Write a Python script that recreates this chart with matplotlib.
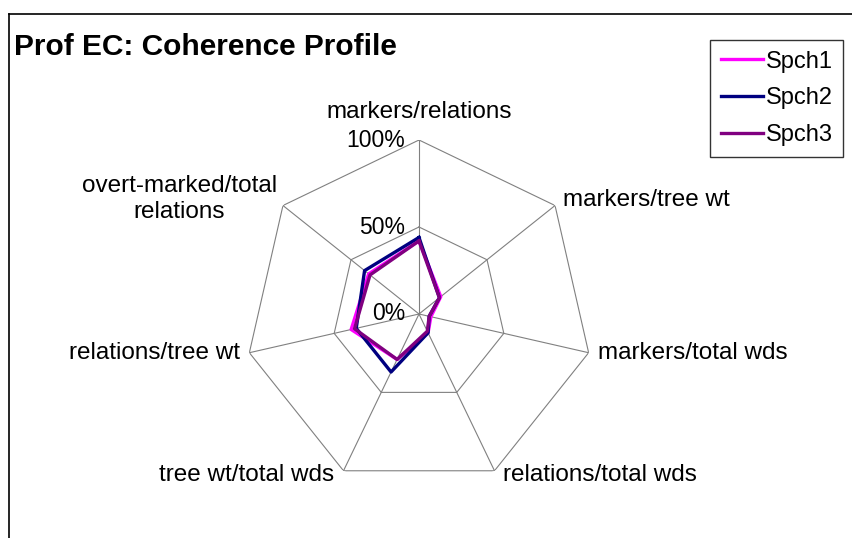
import numpy as np
import matplotlib
matplotlib.use('Agg')
import matplotlib.pyplot as plt
from matplotlib.lines import Line2D

plt.rcParams['font.family'] = ['Liberation Sans', 'DejaVu Sans']

# data (percent)
categories = ['markers/relations', 'markers/tree wt', 'markers/total wds',
              'relations/total wds', 'tree wt/total wds', 'relations/tree wt',
              'overt-marked/total\nrelations']
spch1 = [42, 16, 7, 12, 29, 40, 37]
spch2 = [44, 15, 6, 12, 37, 37, 40]
spch3 = [42, 15, 6, 11, 29, 38, 36]
series_names = ['Spch1', 'Spch2', 'Spch3']
series_colors = ['#FF00FF', '#000080', '#800080']
grid_levels = [0.5, 1.0]
tick_labels = ['0%', '50%', '100%']

W, H = 853, 538
fig = plt.figure(figsize=(W / 100, H / 100), dpi=100)

cx, cy, R = 419, 314, 174
ax = fig.add_axes([(cx - R) / W, (H - cy - R) / H, 2 * R / W, 2 * R / H],
                  projection='polar')
ax.set_theta_offset(np.pi / 2)
ax.set_theta_direction(-1)
ax.set_ylim(0, 1)
ax.set_axis_off()

n = len(categories)
theta = np.arange(n) * 2 * np.pi / n
theta_c = np.append(theta, theta[0])

# polygon grid and spokes
for lv in grid_levels:
    ax.plot(theta_c, [lv] * (n + 1), color='#808080', lw=0.8, zorder=1)
for t in theta:
    ax.plot([t, t], [0, 1], color='#808080', lw=0.8, zorder=1)

# series
handles = []
for vals, name, col in zip([spch1, spch2, spch3], series_names, series_colors):
    v = np.array(vals + vals[:1]) / 100.0
    h, = ax.plot(theta_c, v, color=col, lw=2.4, label=name, zorder=3)
    handles.append(h)

# radial tick labels
for lv, lab in zip([0, 0.5, 1.0], tick_labels):
    ax.annotate(lab, xy=(0, lv), xytext=(-10, 0), textcoords='offset points',
                ha='right', va='center', fontsize=16.5)

# category labels
offsets = [(0, 20, 'center', 'center'), (6, 4, 'left', 'center'),
           (7, 0, 'left', 'center'), (6, -2.7, 'left', 'center'),
           (-6.5, -2.7, 'right', 'center'), (-7, 0, 'right', 'center'),
           (-74.5, 4.7, 'center', 'center')]
for t, lab, (dx, dy, ha, va) in zip(theta, categories, offsets):
    ax.annotate(lab, xy=(t, 1), xytext=(dx, dy), textcoords='offset points',
                ha=ha, va=va, fontsize=17.5, linespacing=1.2)

fig.text(14 / W, 1 - 47 / H, 'Prof EC: Coherence Profile', fontsize=21.5,
         fontweight='bold', ha='left', va='center')

# chart area border (partly cut off)
fig.add_artist(Line2D([9 / W, 1], [1 - 14 / H, 1 - 14 / H], color='black', lw=1.2))
fig.add_artist(Line2D([9 / W, 9 / W], [0, 1 - 14 / H], color='black', lw=1.2))

leg = fig.legend(handles=handles, loc='upper left',
                 bbox_to_anchor=(710 / W, 1 - 40 / H), borderaxespad=0,
                 fontsize=17, frameon=True, fancybox=False, handlelength=1.8,
                 handletextpad=0.1, borderpad=0.45, labelspacing=0.62)
leg.get_frame().set_edgecolor('black')
leg.get_frame().set_linewidth(1)

fig.savefig('out.png', dpi=100)
